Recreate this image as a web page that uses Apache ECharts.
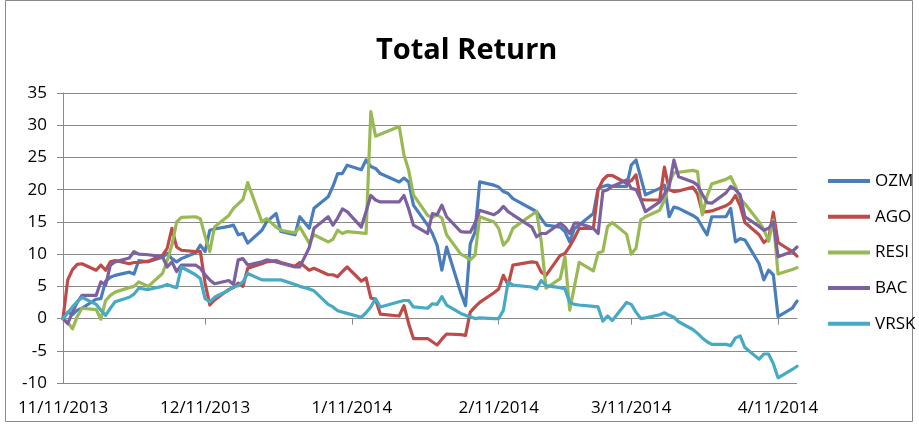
<!DOCTYPE html>
<html><head><meta charset="utf-8">
<script src="https://cdn.jsdelivr.net/npm/echarts@6/dist/echarts.min.js"></script>
<style>html,body{margin:0;padding:0;background:#fff}#chart{width:919px;height:426px}</style>
</head><body><div id="chart"></div>
<script>
const title = 'Total Return';
const seriesNames = ['OZM', 'AGO', 'RESI', 'BAC', 'VRSK'];
const xTickDates = ['2013-11-11', '2013-12-11', '2014-01-11', '2014-02-11', '2014-03-11', '2014-04-11'];
const xMin = '2013-11-11';
const xMax = '2014-04-15';
const yTicks = { min: -10, max: 35, interval: 5 };

const OZM = [['2013-11-11',0],['2013-11-12',1.0],['2013-11-13',0.6],['2013-11-14',1.3],['2013-11-15',1.6],['2013-11-18',3.0],['2013-11-19',3.1],['2013-11-20',5.8],['2013-11-21',6.4],['2013-11-22',6.7],['2013-11-25',7.2],['2013-11-26',6.9],['2013-11-27',9.0],['2013-11-29',8.8],['2013-12-02',9.5],['2013-12-03',10.1],['2013-12-04',9.3],['2013-12-05',8.8],['2013-12-06',9.3],['2013-12-09',10.2],['2013-12-10',11.4],['2013-12-11',10.4],['2013-12-12',13.7],['2013-12-13',13.9],['2013-12-16',14.3],['2013-12-17',14.5],['2013-12-18',13.0],['2013-12-19',13.2],['2013-12-20',11.7],['2013-12-23',13.7],['2013-12-24',15.0],['2013-12-26',16.3],['2013-12-27',13.5],['2013-12-30',13.0],['2013-12-31',15.8],['2014-01-02',14.0],['2014-01-03',17.1],['2014-01-06',18.9],['2014-01-07',20.5],['2014-01-08',22.5],['2014-01-09',22.5],['2014-01-10',23.8],['2014-01-13',23.1],['2014-01-14',24.6],['2014-01-15',23.6],['2014-01-16',23.3],['2014-01-17',22.5],['2014-01-21',21.2],['2014-01-22',21.8],['2014-01-23',21.2],['2014-01-24',17.6],['2014-01-27',14.5],['2014-01-28',13.2],['2014-01-29',11.4],['2014-01-30',7.5],['2014-01-31',11.1],['2014-02-03',4.0],['2014-02-04',2.0],['2014-02-05',11.6],['2014-02-06',13.4],['2014-02-07',21.2],['2014-02-10',20.7],['2014-02-11',20.4],['2014-02-12',19.7],['2014-02-13',19.4],['2014-02-14',18.6],['2014-02-18',17.0],['2014-02-19',16.6],['2014-02-20',15.5],['2014-02-21',14.5],['2014-02-24',14.2],['2014-02-25',13.5],['2014-02-26',11.9],['2014-02-27',14.0],['2014-02-28',14.5],['2014-03-03',16.3],['2014-03-04',20.2],['2014-03-05',20.5],['2014-03-06',20.7],['2014-03-07',20.5],['2014-03-10',20.5],['2014-03-11',23.8],['2014-03-12',24.6],['2014-03-14',19.2],['2014-03-17',20.2],['2014-03-18',20.7],['2014-03-19',15.8],['2014-03-20',17.3],['2014-03-21',17.1],['2014-03-24',16.0],['2014-03-25',15.5],['2014-03-26',14.2],['2014-03-27',13.0],['2014-03-28',15.8],['2014-03-31',15.8],['2014-04-01',17.1],['2014-04-02',11.9],['2014-04-03',12.4],['2014-04-04',12.2],['2014-04-07',8.5],['2014-04-08',6.0],['2014-04-09',7.5],['2014-04-10',6.8],['2014-04-11',0.3],['2014-04-14',1.6],['2014-04-15',2.7]];

const AGO = [['2013-11-11',0],['2013-11-12',6.0],['2013-11-13',7.6],['2013-11-14',8.4],['2013-11-15',8.5],['2013-11-18',7.5],['2013-11-19',8.3],['2013-11-20',7.5],['2013-11-21',8.8],['2013-11-22',9.0],['2013-11-25',8.5],['2013-11-26',8.7],['2013-11-27',8.7],['2013-11-29',8.9],['2013-12-02',9.8],['2013-12-03',10.9],['2013-12-04',14.0],['2013-12-05',11.1],['2013-12-06',10.6],['2013-12-09',10.4],['2013-12-10',10.4],['2013-12-11',5.5],['2013-12-12',2.1],['2013-12-13',2.9],['2013-12-16',4.5],['2013-12-17',4.8],['2013-12-18',5.5],['2013-12-19',5.0],['2013-12-20',7.8],['2013-12-23',8.5],['2013-12-24',8.8],['2013-12-26',9.0],['2013-12-27',8.7],['2013-12-30',8.1],['2013-12-31',8.7],['2014-01-02',7.5],['2014-01-03',7.8],['2014-01-06',6.8],['2014-01-07',6.8],['2014-01-08',6.5],['2014-01-09',7.3],['2014-01-10',8.0],['2014-01-13',5.8],['2014-01-14',6.3],['2014-01-15',3.2],['2014-01-16',3.0],['2014-01-17',0.7],['2014-01-21',0.4],['2014-01-22',2.0],['2014-01-23',-0.8],['2014-01-24',-3.1],['2014-01-27',-3.1],['2014-01-28',-3.6],['2014-01-29',-4.1],['2014-01-30',-3.2],['2014-01-31',-2.4],['2014-02-03',-2.5],['2014-02-04',-2.6],['2014-02-05',1.0],['2014-02-06',1.8],['2014-02-07',2.5],['2014-02-10',4.0],['2014-02-11',4.6],['2014-02-12',6.7],['2014-02-13',5.2],['2014-02-14',8.3],['2014-02-18',8.8],['2014-02-19',8.7],['2014-02-20',7.2],['2014-02-21',6.7],['2014-02-24',9.8],['2014-02-25',10.1],['2014-02-26',11.2],['2014-02-27',12.5],['2014-02-28',14.0],['2014-03-03',14.0],['2014-03-04',20.0],['2014-03-05',21.5],['2014-03-06',22.2],['2014-03-07',22.2],['2014-03-10',21.0],['2014-03-11',21.4],['2014-03-12',22.3],['2014-03-13',18.5],['2014-03-14',18.4],['2014-03-17',18.4],['2014-03-18',23.5],['2014-03-19',20.0],['2014-03-20',19.7],['2014-03-21',19.8],['2014-03-24',20.4],['2014-03-25',19.3],['2014-03-26',16.5],['2014-03-27',16.6],['2014-03-28',16.7],['2014-03-31',17.5],['2014-04-01',18.0],['2014-04-02',19.1],['2014-04-03',17.5],['2014-04-04',14.9],['2014-04-07',13.0],['2014-04-08',11.8],['2014-04-09',12.4],['2014-04-10',16.5],['2014-04-11',11.8],['2014-04-14',10.4],['2014-04-15',9.7]];

const RESI = [['2013-11-11',0],['2013-11-12',-0.6],['2013-11-13',-1.6],['2013-11-14',0.3],['2013-11-15',1.6],['2013-11-18',1.4],['2013-11-19',-0.1],['2013-11-20',2.8],['2013-11-21',3.6],['2013-11-22',4.1],['2013-11-25',4.8],['2013-11-26',5.0],['2013-11-27',5.7],['2013-11-29',5.0],['2013-12-02',7.0],['2013-12-03',9.0],['2013-12-04',11.4],['2013-12-05',15.0],['2013-12-06',15.7],['2013-12-09',15.8],['2013-12-10',15.5],['2013-12-11',12.8],['2013-12-12',10.4],['2013-12-13',14.2],['2013-12-16',16.0],['2013-12-17',17.1],['2013-12-18',17.8],['2013-12-19',18.5],['2013-12-20',21.1],['2013-12-23',15.0],['2013-12-24',15.5],['2013-12-26',14.2],['2013-12-27',13.7],['2013-12-30',13.3],['2013-12-31',14.2],['2014-01-02',11.7],['2014-01-03',13.0],['2014-01-06',11.9],['2014-01-07',12.3],['2014-01-08',13.7],['2014-01-09',13.2],['2014-01-10',13.5],['2014-01-13',13.3],['2014-01-14',13.2],['2014-01-15',32.1],['2014-01-16',28.3],['2014-01-17',28.6],['2014-01-21',29.8],['2014-01-22',25.4],['2014-01-23',23.0],['2014-01-24',19.2],['2014-01-27',16.0],['2014-01-28',15.7],['2014-01-29',16.1],['2014-01-30',15.6],['2014-01-31',13.0],['2014-02-03',10.0],['2014-02-04',9.6],['2014-02-05',9.1],['2014-02-06',9.8],['2014-02-07',15.8],['2014-02-10',15.0],['2014-02-11',14.0],['2014-02-12',11.4],['2014-02-13',12.2],['2014-02-14',14.0],['2014-02-18',16.1],['2014-02-19',16.6],['2014-02-20',11.9],['2014-02-21',4.7],['2014-02-24',6.2],['2014-02-25',9.6],['2014-02-26',1.3],['2014-02-28',8.7],['2014-03-03',7.4],['2014-03-04',10.2],['2014-03-05',10.4],['2014-03-06',14.3],['2014-03-07',14.9],['2014-03-10',13.1],['2014-03-11',10.0],['2014-03-12',10.9],['2014-03-13',15.3],['2014-03-14',15.8],['2014-03-17',16.8],['2014-03-18',18.4],['2014-03-19',21.0],['2014-03-20',22.6],['2014-03-21',22.7],['2014-03-24',23.0],['2014-03-25',22.8],['2014-03-26',16.1],['2014-03-27',19.0],['2014-03-28',20.9],['2014-03-31',21.6],['2014-04-01',22.0],['2014-04-02',20.5],['2014-04-03',18.6],['2014-04-04',17.8],['2014-04-07',15.0],['2014-04-08',13.8],['2014-04-09',12.0],['2014-04-10',15.3],['2014-04-11',6.9],['2014-04-14',7.6],['2014-04-15',7.9]];

const BAC = [['2013-11-11',0],['2013-11-12',-0.8],['2013-11-13',1.0],['2013-11-14',2.5],['2013-11-15',3.6],['2013-11-18',3.6],['2013-11-19',5.7],['2013-11-20',5.2],['2013-11-21',8.3],['2013-11-22',8.8],['2013-11-25',9.4],['2013-11-26',10.4],['2013-11-27',10.0],['2013-11-29',9.9],['2013-12-02',9.6],['2013-12-03',8.0],['2013-12-04',8.8],['2013-12-05',7.3],['2013-12-06',8.3],['2013-12-09',8.3],['2013-12-10',7.8],['2013-12-11',6.8],['2013-12-12',6.0],['2013-12-13',5.4],['2013-12-16',5.9],['2013-12-17',5.3],['2013-12-18',9.1],['2013-12-19',9.3],['2013-12-20',8.3],['2013-12-23',8.8],['2013-12-24',9.1],['2013-12-26',8.8],['2013-12-27',8.6],['2013-12-30',8.0],['2013-12-31',8.0],['2014-01-02',11.0],['2014-01-03',14.0],['2014-01-06',15.8],['2014-01-07',14.5],['2014-01-08',15.6],['2014-01-09',17.0],['2014-01-10',16.6],['2014-01-13',14.2],['2014-01-14',16.6],['2014-01-15',19.1],['2014-01-16',18.4],['2014-01-17',18.1],['2014-01-21',18.1],['2014-01-22',19.1],['2014-01-23',17.0],['2014-01-24',14.5],['2014-01-27',13.2],['2014-01-28',16.3],['2014-01-29',16.1],['2014-01-30',17.6],['2014-01-31',15.8],['2014-02-03',13.5],['2014-02-04',13.4],['2014-02-05',13.4],['2014-02-06',14.8],['2014-02-07',16.8],['2014-02-10',16.1],['2014-02-11',16.6],['2014-02-12',17.4],['2014-02-13',16.6],['2014-02-14',16.1],['2014-02-18',14.2],['2014-02-19',12.7],['2014-02-20',13.2],['2014-02-21',13.2],['2014-02-24',14.8],['2014-02-25',14.2],['2014-02-26',13.2],['2014-02-27',14.8],['2014-02-28',14.8],['2014-03-03',14.0],['2014-03-04',13.2],['2014-03-05',19.7],['2014-03-06',20.0],['2014-03-07',20.5],['2014-03-10',21.5],['2014-03-11',20.2],['2014-03-12',20.0],['2014-03-13',18.5],['2014-03-14',16.6],['2014-03-17',18.1],['2014-03-18',19.3],['2014-03-19',20.5],['2014-03-20',24.6],['2014-03-21',22.0],['2014-03-24',21.2],['2014-03-25',20.7],['2014-03-26',19.3],['2014-03-27',18.0],['2014-03-28',17.9],['2014-03-31',19.5],['2014-04-01',20.5],['2014-04-02',20.0],['2014-04-03',19.2],['2014-04-04',15.8],['2014-04-07',14.3],['2014-04-08',13.7],['2014-04-09',14.0],['2014-04-10',15.0],['2014-04-11',9.6],['2014-04-14',10.4],['2014-04-15',11.1]];

const VRSK = [['2013-11-11',0],['2013-11-12',0.9],['2013-11-13',1.8],['2013-11-14',2.6],['2013-11-15',3.3],['2013-11-18',2.2],['2013-11-19',1.3],['2013-11-20',0.5],['2013-11-21',1.6],['2013-11-22',2.6],['2013-11-25',3.3],['2013-11-26',3.8],['2013-11-27',4.7],['2013-11-29',4.5],['2013-12-02',5.0],['2013-12-03',5.3],['2013-12-04',5.0],['2013-12-05',4.8],['2013-12-06',8.0],['2013-12-09',6.8],['2013-12-10',6.2],['2013-12-11',3.1],['2013-12-12',2.6],['2013-12-13',3.3],['2013-12-16',4.4],['2013-12-17',4.9],['2013-12-18',5.1],['2013-12-19',5.7],['2013-12-20',7.0],['2013-12-23',6.0],['2013-12-24',6.0],['2013-12-26',6.0],['2013-12-27',6.0],['2013-12-30',5.3],['2013-12-31',5.0],['2014-01-02',4.6],['2014-01-03',4.3],['2014-01-06',2.2],['2014-01-07',1.8],['2014-01-08',1.2],['2014-01-09',1.0],['2014-01-10',0.8],['2014-01-13',0.2],['2014-01-14',0.9],['2014-01-15',1.8],['2014-01-16',3.1],['2014-01-17',1.8],['2014-01-21',2.6],['2014-01-22',2.8],['2014-01-23',2.8],['2014-01-24',1.8],['2014-01-27',1.6],['2014-01-28',2.3],['2014-01-29',2.2],['2014-01-30',3.4],['2014-01-31',2.1],['2014-02-03',0.8],['2014-02-04',0.5],['2014-02-05',0.3],['2014-02-06',0.0],['2014-02-07',0.1],['2014-02-10',0.0],['2014-02-11',0.0],['2014-02-12',1.3],['2014-02-13',5.7],['2014-02-14',5.2],['2014-02-18',4.9],['2014-02-19',4.6],['2014-02-20',5.9],['2014-02-21',5.1],['2014-02-24',4.8],['2014-02-25',4.6],['2014-02-26',2.5],['2014-02-27',2.2],['2014-02-28',2.1],['2014-03-03',1.9],['2014-03-04',1.8],['2014-03-05',-0.4],['2014-03-06',0.4],['2014-03-07',-0.3],['2014-03-10',2.5],['2014-03-11',2.2],['2014-03-12',1.0],['2014-03-13',0.0],['2014-03-14',0.1],['2014-03-17',0.6],['2014-03-18',0.9],['2014-03-19',0.5],['2014-03-20',0.2],['2014-03-21',-0.5],['2014-03-24',-1.7],['2014-03-25',-2.3],['2014-03-26',-3.0],['2014-03-27',-3.6],['2014-03-28',-4.0],['2014-03-31',-4.0],['2014-04-01',-4.2],['2014-04-02',-3.0],['2014-04-03',-2.7],['2014-04-04',-4.5],['2014-04-07',-6.3],['2014-04-08',-5.5],['2014-04-09',-5.5],['2014-04-10',-7.0],['2014-04-11',-9.2],['2014-04-14',-7.9],['2014-04-15',-7.4]];

const seriesData = [OZM, AGO, RESI, BAC, VRSK];
const colors = ['#4A7EBB', '#BE4B48', '#98B954', '#7D60A0', '#46AAC5'];

function toTime(s) {
  const p = s.split('-').map(Number);
  return new Date(p[0], p[1] - 1, p[2]).getTime();
}
function fmtDate(v) {
  const d = new Date(v);
  return (d.getMonth() + 1) + '/' + d.getDate() + '/' + d.getFullYear();
}

const FONT = 'Open Sans';
const GRID = '#898989';
const tickTimes = xTickDates.map(toTime);

const chart = echarts.init(document.getElementById('chart'), null, { renderer: 'canvas' });
chart.setOption({
  animation: false,
  backgroundColor: '#fff',
  color: colors,
  title: {
    text: title, left: 371, top: 31,
    textStyle: { fontFamily: FONT, fontSize: 29, fontWeight: 'bold', color: '#000' }
  },
  legend: {
    data: seriesNames, orient: 'vertical', left: 823, top: 166,
    icon: 'rect', itemWidth: 42, itemHeight: 4, itemGap: 15.7,
    textStyle: { fontFamily: FONT, fontSize: 17, color: '#000', lineHeight: 20 }
  },
  grid: { left: 63, right: 122, top: 93, bottom: 43, containLabel: false },
  xAxis: [{
    type: 'value', min: toTime(xMin), max: toTime(xMax), position: 'bottom',
    axisLine: { show: true, onZero: true, lineStyle: { color: GRID, width: 1 } },
    axisTick: { show: true, length: 6, inside: false, customValues: tickTimes, lineStyle: { color: GRID } },
    axisLabel: { show: false },
    splitLine: { show: false }
  }, {
    type: 'value', min: toTime(xMin), max: toTime(xMax), position: 'bottom',
    axisLine: { show: false, onZero: false },
    axisTick: { show: false },
    axisLabel: { show: true, customValues: tickTimes, formatter: fmtDate, margin: 17, hideOverlap: false,
      fontFamily: FONT, fontSize: 17, color: '#000' },
    splitLine: { show: false }
  }],
  yAxis: {
    type: 'value', min: yTicks.min, max: yTicks.max, interval: yTicks.interval,
    axisLine: { show: true, lineStyle: { color: GRID } },
    axisTick: { show: true, length: 6, lineStyle: { color: GRID } },
    axisLabel: { margin: 16, fontFamily: FONT, fontSize: 17, color: '#000' },
    splitLine: { show: true, lineStyle: { color: GRID, width: 1 } }
  },
  graphic: [{
    type: 'rect', shape: { x: 5.5, y: 0.5, width: 907, height: 421 }, silent: true, z: -1,
    style: { fill: 'none', stroke: '#898989', lineWidth: 1 }
  }],
  series: seriesNames.map((name, i) => ({
    name, type: 'line', xAxisIndex: 0, showSymbol: false, symbol: 'none',
    data: seriesData[i].map(p => [toTime(p[0]), p[1]]),
    lineStyle: { width: 3.2, color: colors[i], cap: 'round', join: 'round' },
    itemStyle: { color: colors[i] }
  }))
});
</script></body></html>
